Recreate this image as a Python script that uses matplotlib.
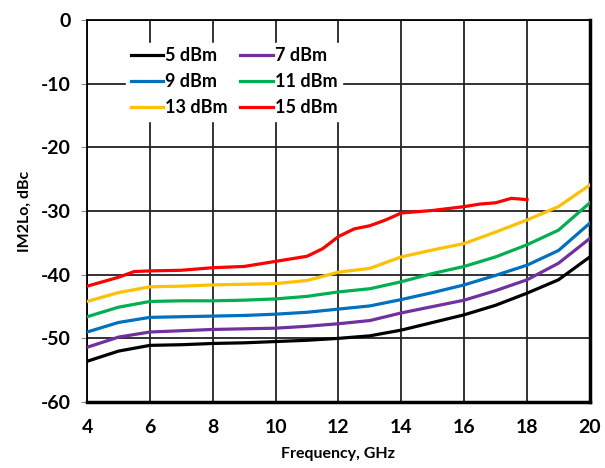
import numpy as np
import matplotlib
matplotlib.use('Agg')
import matplotlib.pyplot as plt

plt.rcParams['font.family'] = ['Lato', 'DejaVu Sans']
plt.rcParams['font.weight'] = 'bold'
plt.rcParams['axes.unicode_minus'] = False

# data
freq = [4, 5, 6, 7, 8, 9, 10, 11, 12, 13, 14, 15, 16, 17, 18, 19, 20]
p5 = [-53.6, -52.0, -51.1, -51.0, -50.8, -50.7, -50.5, -50.3, -50.0, -49.6, -48.7, -47.5, -46.3, -44.8, -42.9, -40.8, -37.2]
p7 = [-51.4, -49.8, -49.0, -48.8, -48.6, -48.5, -48.4, -48.1, -47.7, -47.2, -46.0, -45.0, -44.0, -42.5, -40.8, -38.2, -34.3]
p9 = [-49.0, -47.5, -46.7, -46.6, -46.5, -46.4, -46.2, -45.9, -45.4, -44.9, -43.9, -42.8, -41.6, -40.1, -38.5, -36.2, -31.9]
p11 = [-46.6, -45.1, -44.2, -44.1, -44.1, -44.0, -43.8, -43.4, -42.7, -42.2, -41.1, -39.8, -38.7, -37.2, -35.3, -33.0, -28.7]
p13 = [-44.2, -42.8, -41.9, -41.8, -41.6, -41.5, -41.4, -40.9, -39.6, -39.0, -37.2, -36.1, -35.1, -33.3, -31.4, -29.3, -25.9]
freq15 = [4, 5, 5.5, 6, 7, 8, 9, 10, 11, 11.5, 12, 12.5, 13, 13.5, 14, 15, 16, 16.5, 17, 17.5, 18]
p15 = [-41.8, -40.4, -39.5, -39.4, -39.3, -38.9, -38.7, -37.9, -37.1, -35.9, -34.0, -32.8, -32.3, -31.4, -30.3, -29.9, -29.3, -28.9, -28.7, -28.0, -28.2]

series = [
    ('5 dBm', freq, p5, 'black'),
    ('7 dBm', freq, p7, '#7030a0'),
    ('9 dBm', freq, p9, '#0070c0'),
    ('11 dBm', freq, p11, '#00b050'),
    ('13 dBm', freq, p13, '#ffc000'),
    ('15 dBm', freq15, p15, '#ff0000'),
]

fig = plt.figure(figsize=(6.05, 4.68), dpi=100)
ax = fig.add_axes([0.144, 0.141, 0.831, 0.816])

lines = []
for label, x, y, c in series:
    ln, = ax.plot(x, y, color=c, lw=2.3, label=label, zorder=3)
    lines.append(ln)

ax.set_xlim(4, 20)
ax.set_ylim(-60, 0)
ax.set_xticks(np.arange(4, 21, 2))
ax.set_yticks(np.arange(-60, 1, 10))
ax.grid(True, color='#222222', lw=1.3)
ax.set_axisbelow(True)
for side in ['bottom', 'right']:
    ax.spines[side].set_linewidth(2.5)
for side in ['top', 'left']:
    ax.spines[side].set_linewidth(1.3)
ax.tick_params(axis='both', labelsize=14, length=4, color='#888888', pad=8)
ax.tick_params(axis='x', length=0, pad=12)
for t in ax.get_xticklabels() + ax.get_yticklabels():
    t.set_fontweight('bold')

ax.set_xlabel('Frequency, GHz', fontsize=11.5, fontweight='bold', labelpad=8)
ax.set_ylabel('IM2Lo, dBc', fontsize=11.5, fontweight='bold', labelpad=6)

# row-wise legend order: 5/7, 9/11, 13/15
order = [0, 2, 4, 1, 3, 5]
leg = ax.legend([lines[i] for i in order], [series[i][0] for i in order],
                loc='upper left', bbox_to_anchor=(0.06, 0.965), ncol=2,
                frameon=True, fancybox=False, edgecolor='white', framealpha=1,
                fontsize=13, handlelength=1.8, handletextpad=0.1,
                columnspacing=0.7, labelspacing=0.5, borderpad=0.25)
for t in leg.get_texts():
    t.set_fontweight('bold')

fig.savefig('out.png', dpi=100)
